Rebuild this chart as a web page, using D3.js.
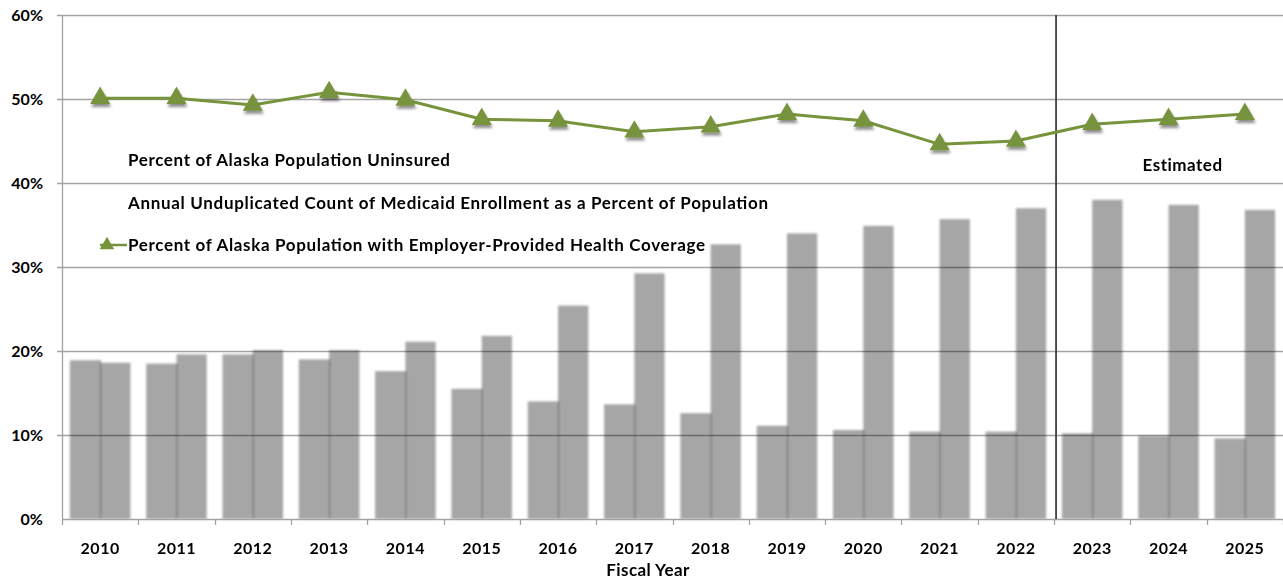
<!DOCTYPE html>
<html>
<head>
<meta charset="utf-8">
<script src="https://cdn.jsdelivr.net/npm/d3@7"></script>
<style>
  body { margin: 0; background: #fff; }
  svg text { font-family: Lato, "Open Sans", sans-serif; font-weight: bold; fill: #000; }
</style>
</head>
<body>
<div id="chart"></div>
<script>
// Data
const years = ['2010', '2011', '2012', '2013', '2014', '2015', '2016', '2017',
  '2018', '2019', '2020', '2021', '2022', '2023', '2024', '2025']
const uninsured = [18.9, 18.5, 19.6, 19.0, 17.6, 15.5, 14.0, 13.65,
  12.6, 11.1, 10.6, 10.4, 10.4, 10.2, 9.9, 9.6]
const medicaid = [18.6, 19.6, 20.1, 20.1, 21.1, 21.8, 25.4, 29.25,
  32.7, 34.0, 34.9, 35.7, 37.0, 38.0, 37.4, 36.8]
const employer = [50.1, 50.1, 49.3, 50.8, 49.9, 47.6, 47.4, 46.1,
  46.7, 48.2, 47.4, 44.6, 45.0, 47.0, 47.6, 48.2]
const yTicks = [0, 10, 20, 30, 40, 50, 60]
const legendLabels = ['Percent of Alaska Population Uninsured',
  'Annual Unduplicated Count of Medicaid Enrollment as a Percent of Population',
  'Percent of Alaska Population with Employer-Provided Health Coverage']
const firstEstimated = '2023'

const width = 1283,
  height = 582,
  margin = { top: 15, right: 0, bottom: 63, left: 62 }

const green = '#77933c'

let svg = d3.select('#chart')
  .append('svg')
  .attr('width', width)
  .attr('height', height)

let defs = svg.append('defs')
defs.append('filter')
  .attr('id', 'soft')
  .attr('x', '-20%').attr('y', '-5%').attr('width', '140%').attr('height', '110%')
  .append('feGaussianBlur')
  .attr('stdDeviation', 1.3)

let shadow = defs.append('filter')
  .attr('id', 'shadow')
  .attr('x', '-50%').attr('y', '-50%').attr('width', '200%').attr('height', '200%')
shadow.append('feGaussianBlur').attr('in', 'SourceAlpha').attr('stdDeviation', 1.5)
shadow.append('feOffset').attr('dx', 1).attr('dy', 3).attr('result', 'off')
shadow.append('feComponentTransfer').append('feFuncA').attr('type', 'linear').attr('slope', 0.45)
let merge = shadow.append('feMerge')
merge.append('feMergeNode')
merge.append('feMergeNode').attr('in', 'SourceGraphic')

let x = d3.scaleBand()
  .domain(years)
  .range([margin.left, width - margin.right])

let x1 = d3.scaleBand()
  .domain(['u', 'm'])
  .range([0, x.bandwidth()])
  .paddingOuter(0.26)

let y = d3.scaleLinear()
  .domain([0, 60])
  .range([height - margin.bottom, margin.top])

// gridlines
svg.append('g')
  .selectAll('line')
  .data(yTicks.slice(1))
  .enter()
  .append('line')
  .attr('x1', margin.left - 5)
  .attr('x2', width - margin.right)
  .attr('y1', d => Math.round(y(d)) + 0.5)
  .attr('y2', d => Math.round(y(d)) + 0.5)
  .attr('stroke', '#a3a3a3')
  .attr('stroke-width', 1.3)

// y axis
svg.append('line')
  .attr('x1', margin.left + 0.5).attr('x2', margin.left + 0.5)
  .attr('y1', margin.top).attr('y2', height - margin.bottom)
  .attr('stroke', '#a3a3a3').attr('stroke-width', 1.3)

svg.append('g')
  .selectAll('text')
  .data(yTicks)
  .enter()
  .append('text')
  .attr('x', margin.left - 19)
  .attr('y', d => y(d))
  .attr('dy', '0.36em')
  .attr('text-anchor', 'end')
  .style('font-size', '16px')
  .text(d => d + '%')

// bars
let groups = svg.append('g')
  .attr('filter', 'url(#soft)')
  .selectAll('g')
  .data(years)
  .enter()
  .append('g')
  .attr('transform', d => `translate(${x(d)},0)`)

groups.append('rect')
  .attr('x', x1('u'))
  .attr('y', (d, i) => y(uninsured[i]))
  .attr('width', x1.bandwidth() + 1)
  .attr('height', (d, i) => y(0) - y(uninsured[i]))
  .attr('fill', '#000')
  .attr('fill-opacity', 0.35)

groups.append('rect')
  .attr('x', x1('m'))
  .attr('y', (d, i) => y(medicaid[i]))
  .attr('width', x1.bandwidth())
  .attr('height', (d, i) => y(0) - y(medicaid[i]))
  .attr('fill', '#000')
  .attr('fill-opacity', 0.35)

// x axis
svg.append('line')
  .attr('x1', margin.left).attr('x2', width)
  .attr('y1', y(0) + 0.5).attr('y2', y(0) + 0.5)
  .attr('stroke', '#a3a3a3').attr('stroke-width', 1.3)

let bounds = years.map(d => x(d)).concat([x.range()[1] - 0.5])
svg.append('g')
  .selectAll('line')
  .data(bounds)
  .enter()
  .append('line')
  .attr('x1', d => Math.round(d) + 0.5)
  .attr('x2', d => Math.round(d) + 0.5)
  .attr('y1', y(0))
  .attr('y2', y(0) + 6)
  .attr('stroke', '#a3a3a3').attr('stroke-width', 1.3)

svg.append('g')
  .selectAll('text')
  .data(years)
  .enter()
  .append('text')
  .attr('x', d => x(d) + x.bandwidth() / 2)
  .attr('y', y(0) + 29)
  .attr('dy', '0.36em')
  .attr('text-anchor', 'middle')
  .style('font-size', '16px')
  .style('letter-spacing', '0.5px')
  .text(d => d)

svg.append('text')
  .attr('x', 648)
  .attr('y', y(0) + 51)
  .attr('dy', '0.36em')
  .attr('text-anchor', 'middle')
  .style('font-size', '17px')
  .style('letter-spacing', '0.4px')
  .text('Fiscal Year')

// separator between actual and estimated
let sepX = x(firstEstimated) + 2
svg.append('line')
  .attr('x1', sepX).attr('x2', sepX)
  .attr('y1', margin.top).attr('y2', y(0))
  .attr('stroke', '#404040').attr('stroke-width', 1.8)

svg.append('text')
  .attr('x', x('2024') + x.bandwidth() / 2 + 14)
  .attr('y', y(42.2))
  .attr('dy', '0.36em')
  .attr('text-anchor', 'middle')
  .style('font-size', '17px')
  .style('letter-spacing', '0.5px')
  .text('Estimated')

// employer coverage line
let line = d3.line()
  .x((d, i) => x(years[i]) + x.bandwidth() / 2)
  .y(d => y(d))

svg.append('path')
  .datum(employer)
  .attr('d', line)
  .attr('fill', 'none')
  .attr('stroke', green)
  .attr('stroke-width', 3)

let tri = d3.symbol().type(d3.symbolTriangle).size(175)

svg.append('g')
  .attr('filter', 'url(#shadow)')
  .selectAll('path')
  .data(employer)
  .enter()
  .append('path')
  .attr('d', tri)
  .attr('transform', (d, i) => `translate(${x(years[i]) + x.bandwidth() / 2},${y(d)})`)
  .attr('fill', green)

// legend (text widths matched to the original)
const legendWidths = [322, 640, 577]
let legend = svg.append('g')
legend.selectAll('text')
  .data(legendLabels)
  .enter()
  .append('text')
  .attr('x', 128)
  .attr('y', (d, i) => 160 + i * 42.5)
  .attr('dy', '0.36em')
  .attr('textLength', (d, i) => legendWidths[i])
  .attr('lengthAdjust', 'spacing')
  .style('font-size', '17px')
  .text(d => d)

legend.append('line')
  .attr('x1', 100).attr('x2', 127)
  .attr('y1', 245).attr('y2', 245)
  .attr('stroke', green).attr('stroke-width', 2.5)
legend.append('path')
  .attr('d', d3.symbol().type(d3.symbolTriangle).size(90))
  .attr('transform', 'translate(107,245)')
  .attr('fill', green)
</script>
</body>
</html>
